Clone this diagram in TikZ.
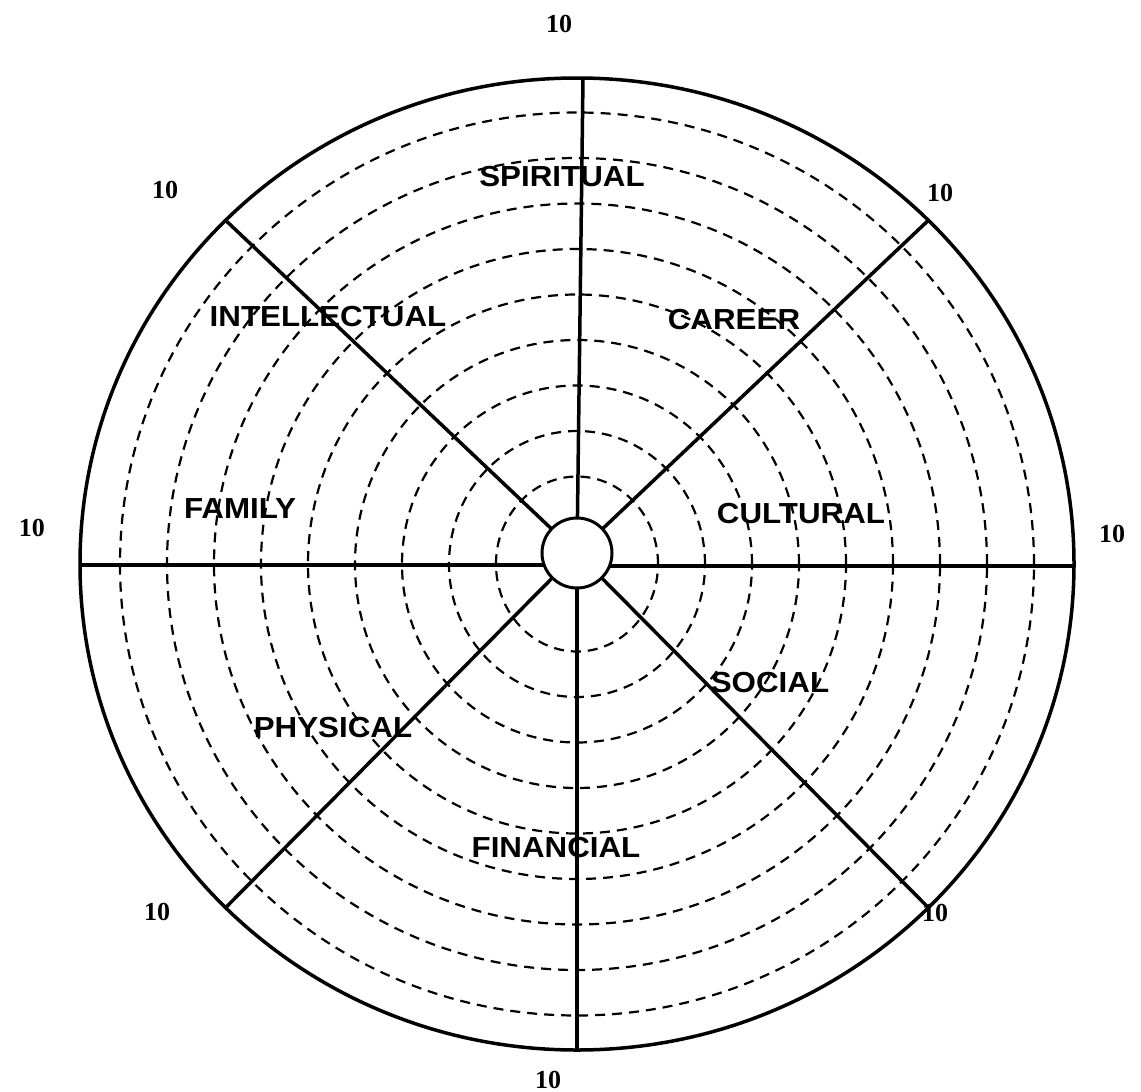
\documentclass[tikz,border=0pt]{standalone}
\usepackage{fontspec}
\setmainfont{Liberation Serif}
\newfontfamily\labfont[FakeStretch=1.08]{Liberation Sans}
\begin{document}
\begin{tikzpicture}[x=1pt,y=-1pt,
  rim/.style={line width=3.5pt},
  ring/.style={line width=2.2pt, dash pattern=on 10pt off 7pt},
  spoke/.style={line width=3.5pt},
  hubstyle/.style={draw, circle, line width=3pt, minimum size=70pt, inner sep=0pt, fill=white},
  cat/.style={font=\labfont\bfseries\fontsize{29}{29}\selectfont, inner sep=0pt},
  num/.style={font=\bfseries\fontsize{26}{26}\selectfont, inner sep=0pt}]
\fill[white] (0,0) rectangle (1141,1092);
\useasboundingbox (0,0) rectangle (1141,1092);
\coordinate (C) at (577,564);
% rings
\foreach \k in {1,...,9}
  \draw[ring] (C) ellipse [x radius={34pt+47pt*\k}, y radius={42pt+45.5pt*\k}];
\draw[rim] (C) ellipse [x radius=497pt, y radius=486pt];
% hub centre and spoke ends
\coordinate (hc) at (577,553);
\coordinate (pT) at (583,78);
\coordinate (pB) at (577,1050);
\coordinate (pL) at (80,565);
\coordinate (pR) at (1074,566);
\coordinate (pNW) at (225.6,220.3);
\coordinate (pNE) at (928.4,220.3);
\coordinate (pSW) at (225.6,907.7);
\coordinate (pSE) at (928.4,907.7);
\foreach \p in {pT,pB,pNW,pNE,pSW,pSE}
  \draw[spoke] (hc) -- (\p);
\draw[spoke] (hc |- pL) -- (pL);
\draw[spoke] (hc |- pR) -- (pR);
% hub on top
\node[hubstyle] (hub) at (hc) {};
% numbers
\node[num] (nT) at (559,24) {10};
\node[num] (nNW) at (165,190) {10};
\node[num] (nNE) at (940,193) {10};
\node[num] (nL) at (32,528) {10};
\node[num] (nR) at (1112,534) {10};
\node[num] (nSW) at (157,912) {10};
\node[num] (nSE) at (935,913) {10};
\node[num] (nB) at (548,1080) {10};
% categories
\node[cat] (spiritual) at (562,177) {SPIRITUAL};
\node[cat] (intellectual) at (328,317) {INTELLECTUAL};
\node[cat] (career) at (734,320) {CAREER};
\node[cat] (family) at (240,509) {FAMILY};
\node[cat] (cultural) at (801,514) {CULTURAL};
\node[cat] (social) at (770,683) {SOCIAL};
\node[cat] (physical) at (333,728) {PHYSICAL};
\node[cat] (financial) at (556,848) {FINANCIAL};
\end{tikzpicture}
\end{document}
